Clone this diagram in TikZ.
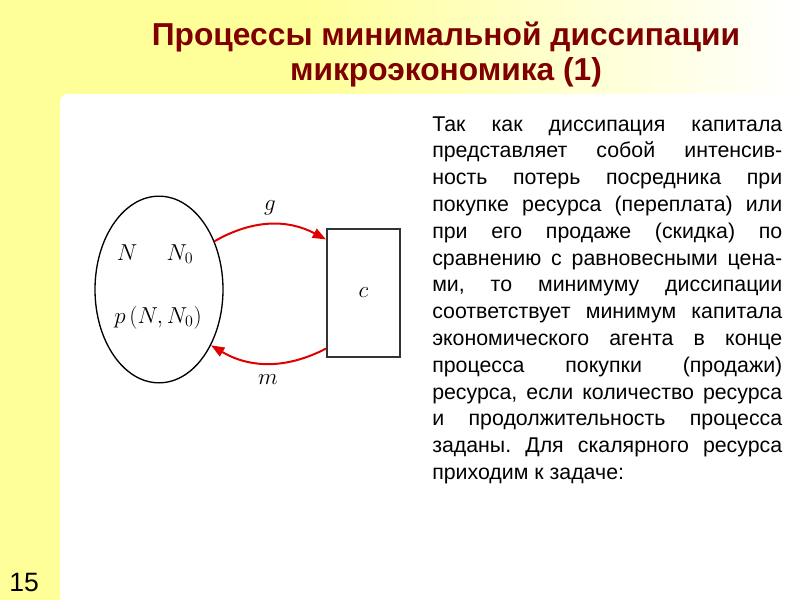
\documentclass[tikz,border=0pt]{standalone}
\usepackage[no-math]{fontspec}
\setmainfont{Liberation Sans}
\usepackage{amsmath}
\usetikzlibrary{arrows.meta,shapes.geometric,positioning}
\definecolor{slidebg}{HTML}{FFFF99}
\definecolor{headred}{HTML}{800000}
\definecolor{flowred}{HTML}{E00000}
\frenchspacing

\begin{document}
\begin{tikzpicture}[x=0.75pt,y=-0.75pt,
  flow/.style={-{Triangle[length=10pt,width=7.5pt]},line width=1.5pt,flowred},
  mathlbl/.style={font=\fontsize{17}{19}\selectfont,inner sep=0pt,text=black}]
  \useasboundingbox (0,0) rectangle (800,600);
  \begin{scope}
    \clip (0,0) rectangle (800,600);
    \fill[slidebg] (0,0) rectangle (800,600);
    \shade[left color=slidebg,right color=white] (300,0) rectangle (800,94);
    \fill[white,rounded corners=6pt] (60,94) rectangle (840,640);
  \end{scope}
  \node[anchor=base,align=center,headred,font=\fontsize{23.8}{26.25}\selectfont\bfseries] (title) at (446,80)
    {Процессы минимальной диссипации\\микроэкономика (1)};
  \node[anchor=base west,inner sep=0pt,font=\fontsize{19.9}{24}\selectfont] (slideno) at (9,591) {15};
  % diagram
  \node[ellipse,draw,line width=1pt,minimum width=96pt,minimum height=140pt] (res) at (159,289.5) {};
  \node[draw=black!80,line width=1.5pt,minimum width=54.75pt,minimum height=96pt,mathlbl] (agent) at (363.5,293) {$c$};
  \node[mathlbl,anchor=base] (vN) at (127,260) {$N$};
  \node[mathlbl,anchor=base] (vN0) at (180,260) {$N_0$};
  \node[mathlbl,anchor=base] (price) at (158,323) {$p\,(N,N_0)$};
  \draw[flow] (res.41) to[bend left=29] node[mathlbl,above=6pt] (lg) {$g$} (agent.125);
  \draw[flow] (agent.236) to[bend left=29] node[mathlbl,below=8pt] (lm) {$m$} (res.-47);
  % text
  \node[anchor=base west,inner sep=0pt,align=left,font=\fontsize{16}{20.1}\selectfont] (para) at (432,479.5)
    {\makebox[262.5pt][s]{Так как диссипация капитала}\\
     \makebox[262.5pt][s]{представляет собой интенсив-}\\
     \makebox[262.5pt][s]{ность потерь посредника при}\\
     \makebox[262.5pt][s]{покупке ресурса (переплата) или}\\
     \makebox[262.5pt][s]{при его продаже (скидка) по}\\
     \makebox[262.5pt][s]{сравнению с равновесными цена-}\\
     \makebox[262.5pt][s]{ми, то минимуму диссипации}\\
     \makebox[262.5pt][s]{соответствует минимум капитала}\\
     \makebox[262.5pt][s]{экономического агента в конце}\\
     \makebox[262.5pt][s]{процесса покупки (продажи)}\\
     \makebox[262.5pt][s]{ресурса, если количество ресурса}\\
     \makebox[262.5pt][s]{и продолжительность процесса}\\
     \makebox[262.5pt][s]{заданы. Для скалярного ресурса}\\
     приходим к задаче:};
\end{tikzpicture}
\end{document}
